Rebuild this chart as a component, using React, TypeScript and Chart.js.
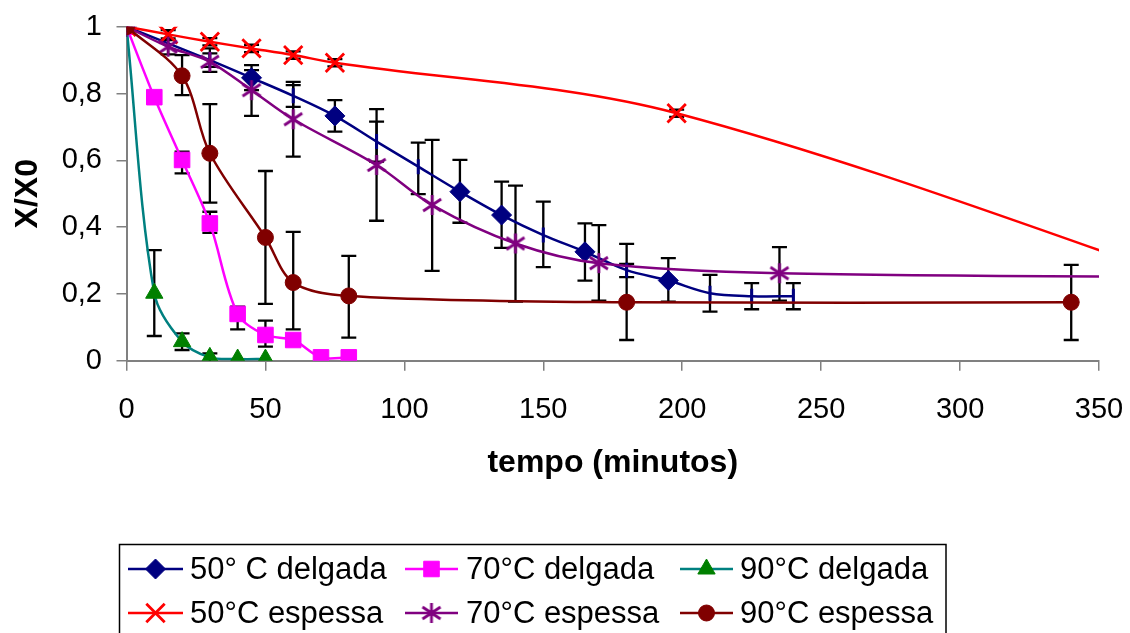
import React, { useEffect, useRef } from "react";
import { Chart, registerables } from "chart.js";
import { drawPoint } from "chart.js/helpers";

Chart.register(...registerables);

// ---- axis ticks ----
const xTickStep = 50;
const xMin = 0;
const xMax = 350;
const yTickStep = 0.2;
const yMin = 0;
const yMax = 1;

// ---- 50° C delgada ----
const d50X = [0, 30, 45, 60, 75, 90, 105, 120, 135, 150, 165, 180, 195, 210, 225, 240];
const d50Y = [1, 0.9, 0.847, 0.793, 0.733, 0.656, 0.581, 0.506, 0.436, 0.376, 0.326, 0.271, 0.24, 0.202, 0.193, 0.193];
const d50Lo = [null, 0.88, 0.81, 0.76, 0.686, 0.596, 0.499, 0.413, 0.338, 0.28, 0.24, 0.25, 0.177, 0.147, 0.154, 0.154];
const d50Hi = [null, 0.92, 0.885, 0.835, 0.78, 0.716, 0.653, 0.601, 0.536, 0.476, 0.411, 0.29, 0.307, 0.257, 0.232, 0.232];
const d50Marker = ["D", "-", "D", "-", "D", "-", "-", "D", "D", "-", "D", "-", "D", "-", "-", "-"];

// ---- 70°C delgada ----
const d70X = [0, 10, 20, 30, 40, 50, 60, 70, 80];
const d70Y = [1, 0.789, 0.601, 0.411, 0.14, 0.077, 0.062, 0.01, 0.01];
const d70Lo = [null, 0.78, 0.561, 0.383, 0.094, 0.042, 0.055, null, null];
const d70Hi = [null, 0.8, 0.626, 0.446, 0.162, 0.12, 0.07, null, null];

// ---- 90°C delgada ----
const d90X = [0, 10, 20, 30, 40, 50];
const d90Y = [1, 0.202, 0.057, 0.01, 0.005, 0.005];
const d90Lo = [null, 0.074, 0.032, 0, null, null];
const d90Hi = [null, 0.331, 0.082, 0.022, null, null];

// ---- 50°C espessa ---- (last point lies beyond the axis end)
const e50X = [0, 15, 30, 45, 60, 75, 198, 420];
const e50Y = [1, 0.977, 0.955, 0.935, 0.915, 0.892, 0.741, 0.13];
const e50Lo = [null, 0.965, 0.944, 0.924, 0.904, 0.881, 0.73, null];
const e50Hi = [null, 0.99, 0.966, 0.946, 0.926, 0.903, 0.752, null];

// ---- 70°C espessa ---- (last point lies beyond the axis end)
const e70X = [0, 15, 30, 45, 60, 90, 110, 140, 170, 235, 420];
const e70Y = [1, 0.94, 0.895, 0.81, 0.723, 0.586, 0.466, 0.351, 0.292, 0.262, 0.249];
const e70Lo = [null, 0.917, 0.865, 0.733, 0.611, 0.419, 0.269, 0.177, 0.18, 0.18, null];
const e70Hi = [null, 0.96, 0.935, 0.87, 0.825, 0.753, 0.661, 0.524, 0.406, 0.34, null];

// ---- 90°C espessa ----
const e90X = [0, 20, 30, 50, 60, 80, 180, 340];
const e90Y = [1, 0.853, 0.621, 0.369, 0.234, 0.194, 0.175, 0.175];
const e90Lo = [null, 0.795, 0.473, 0.17, 0.094, 0.069, 0.062, 0.062];
const e90Hi = [null, 0.915, 0.768, 0.568, 0.386, 0.314, 0.35, 0.287];

const legendLabels = [
  "50° C delgada",
  "70°C delgada",
  "90°C delgada",
  "50°C espessa",
  "70°C espessa",
  "90°C espessa",
];

const xTitle = "tempo (minutos)";
const yTitle = "X/X0";

const FONT = "'Liberation Sans', Arial, sans-serif";

function makeStar(color: string): HTMLCanvasElement {
  const c = document.createElement("canvas");
  c.width = 22;
  c.height = 22;
  const g = c.getContext("2d")!;
  g.strokeStyle = color;
  g.lineWidth = 2.8;
  g.lineCap = "butt";
  g.beginPath();
  g.moveTo(11, 1);
  g.lineTo(11, 21);
  g.moveTo(2, 5);
  g.lineTo(20, 17);
  g.moveTo(2, 17);
  g.lineTo(20, 5);
  g.stroke();
  return c;
}

type Series = {
  label: string;
  xs: number[];
  ys: number[];
  lo: (number | null)[];
  hi: (number | null)[];
  line: string;
  fill: string;
  style: any;
  radius: number;
  bw: number;
};

export default function App() {
  const ref = useRef<HTMLCanvasElement | null>(null);

  useEffect(() => {
    if (!ref.current) return;
    const star = makeStar("#800080");

    const series: Series[] = [
      { label: legendLabels[0], xs: d50X, ys: d50Y, lo: d50Lo, hi: d50Hi, line: "#000080", fill: "#000080", style: "rectRot", radius: 10, bw: 1 },
      { label: legendLabels[1], xs: d70X, ys: d70Y, lo: d70Lo, hi: d70Hi, line: "#FF00FF", fill: "#FF00FF", style: "rect", radius: 11, bw: 1 },
      { label: legendLabels[2], xs: d90X, ys: d90Y, lo: d90Lo, hi: d90Hi, line: "#008080", fill: "#008000", style: "triangle", radius: 10, bw: 1 },
      { label: legendLabels[3], xs: e50X, ys: e50Y, lo: e50Lo, hi: e50Hi, line: "#FF0000", fill: "#FF0000", style: "crossRot", radius: 13, bw: 2.8 },
      { label: legendLabels[4], xs: e70X, ys: e70Y, lo: e70Lo, hi: e70Hi, line: "#800080", fill: "#800080", style: star, radius: 10, bw: 1 },
      { label: legendLabels[5], xs: e90X, ys: e90Y, lo: e90Lo, hi: e90Hi, line: "#800000", fill: "#800000", style: "circle", radius: 8, bw: 1 },
    ];

    const datasets = series.map((s, i) => {
      const isBlue = i === 0;
      const isDash = (k: number) => isBlue && d50Marker[k] !== "D";
      return {
        label: s.label,
        data: s.xs.map((x, j) => ({ x, y: s.ys[j] })),
        borderColor: s.line,
        backgroundColor: s.fill,
        borderWidth: 2.5,
        tension: 0.33,
        order: 6 - i,
        pointStyle: (ctx: any) => (isDash(ctx.dataIndex) ? "line" : s.style),
        pointRotation: (ctx: any) => (isDash(ctx.dataIndex) ? 90 : 0),
        pointRadius: (ctx: any) => {
          if (ctx.raw && ctx.raw.x > xMax) return 0;
          if (isDash(ctx.dataIndex)) return 7.5;
          return s.radius;
        },
        pointBorderWidth: (ctx: any) => (isDash(ctx.dataIndex) ? 3 : s.bw),
        pointBorderColor: s.fill,
        pointBackgroundColor: s.fill,
        pointHoverRadius: s.radius,
      };
    });

    const errorBars = {
      id: "errorBars",
      beforeDatasetsDraw(chart: any) {
        const ctx = chart.ctx as CanvasRenderingContext2D;
        const yScale = chart.scales.y;
        const area = chart.chartArea;
        ctx.save();
        ctx.strokeStyle = "#000000";
        ctx.lineWidth = 2.3;
        const cap = 7.5;
        series.forEach((s, i) => {
          const meta = chart.getDatasetMeta(i);
          s.xs.forEach((x, j) => {
            const lo = s.lo[j];
            const hi = s.hi[j];
            if (lo == null || hi == null || x > xMax) return;
            const px = meta.data[j].x;
            const y1 = yScale.getPixelForValue(lo);
            const y2 = yScale.getPixelForValue(hi);
            ctx.beginPath();
            ctx.moveTo(px, Math.min(y1, area.bottom));
            ctx.lineTo(px, y2);
            ctx.moveTo(px - cap, y2);
            ctx.lineTo(px + cap, y2);
            if (y1 < area.bottom - 0.5) {
              ctx.moveTo(px - cap, y1);
              ctx.lineTo(px + cap, y1);
            }
            ctx.stroke();
          });
        });
        ctx.restore();
      },
    };

    const legendBox = {
      id: "legendBox",
      afterDraw(chart: any) {
        const ctx = chart.ctx as CanvasRenderingContext2D;
        ctx.save();
        ctx.strokeStyle = "#000000";
        ctx.lineWidth = 1.5;
        ctx.strokeRect(119.5, 544.5, 826.5, 120);
        const cols = [
          { l0: 128, l1: 183, tx: 190 },
          { l0: 405, l1: 458, tx: 466 },
          { l0: 680, l1: 733, tx: 740 },
        ];
        const rows = [569, 613];
        ctx.font = `31px ${FONT}`;
        ctx.textBaseline = "middle";
        ctx.textAlign = "left";
        series.forEach((s, i) => {
          const c = cols[i % 3];
          const y = rows[Math.floor(i / 3)];
          ctx.strokeStyle = s.line;
          ctx.lineWidth = 2.5;
          ctx.beginPath();
          ctx.moveTo(c.l0, y);
          ctx.lineTo(c.l1, y);
          ctx.stroke();
          ctx.fillStyle = s.fill;
          ctx.strokeStyle = s.fill;
          ctx.lineWidth = s.bw;
          drawPoint(ctx, { pointStyle: s.style, rotation: 0, radius: s.radius, borderWidth: s.bw } as any, (c.l0 + c.l1) / 2, y);
          ctx.fillStyle = "#000000";
          ctx.fillText(s.label, c.tx, y + 1);
        });
        ctx.restore();
      },
    };

    const chart = new Chart(ref.current, {
      type: "line",
      data: { datasets: datasets as any },
      plugins: [errorBars, legendBox],
      options: {
        animation: false,
        responsive: false,
        maintainAspectRatio: false,
        layout: { padding: { left: 0, right: 31, top: 26.7, bottom: 150.8 } },
        plugins: {
          legend: { display: false },
          tooltip: { enabled: false },
        },
        scales: {
          x: {
            type: "linear",
            min: xMin,
            max: xMax,
            ticks: {
              stepSize: xTickStep,
              color: "#000000",
              font: { family: FONT, size: 29 },
              padding: 21.9,
              maxRotation: 0,
            },
            grid: {
              drawOnChartArea: false,
              drawTicks: true,
              tickLength: 10,
              color: "#808080",
              lineWidth: 1.5,
            },
            border: { display: true, color: "#808080", width: 2 },
            title: {
              display: true,
              text: xTitle,
              color: "#000000",
              font: { family: FONT, size: 32, weight: "bold" },
              padding: { top: 0, bottom: 0 },
            },
            afterFit(scale: any) {
              scale.height = 121.5;
              scale.paddingLeft = 0;
              scale.paddingRight = 0;
            },
          },
          y: {
            type: "linear",
            min: yMin,
            max: yMax,
            ticks: {
              stepSize: yTickStep,
              color: "#000000",
              font: { family: FONT, size: 29 },
              padding: 14.5,
              callback: (v: any) => String(Math.round(Number(v) * 10) / 10).replace(".", ","),
            },
            grid: {
              drawOnChartArea: false,
              drawTicks: true,
              tickLength: 10,
              color: "#808080",
              lineWidth: 1.5,
            },
            border: { display: true, color: "#808080", width: 2 },
            title: {
              display: true,
              text: yTitle,
              color: "#000000",
              font: { family: FONT, size: 32, weight: "bold" },
              padding: { top: 8.8, bottom: 0 },
            },
            afterFit(scale: any) {
              scale.width = 126.5;
              scale.paddingTop = 0;
              scale.paddingBottom = 0;
            },
          },
        },
      } as any,
    });
    return () => chart.destroy();
  }, []);

  return (
    <div style={{ position: "fixed", left: 0, top: 0, width: 1130, height: 633, background: "#ffffff" }}>
      <canvas ref={ref} width={1130} height={633} style={{ display: "block", width: 1130, height: 633 }} />
    </div>
  );
}
